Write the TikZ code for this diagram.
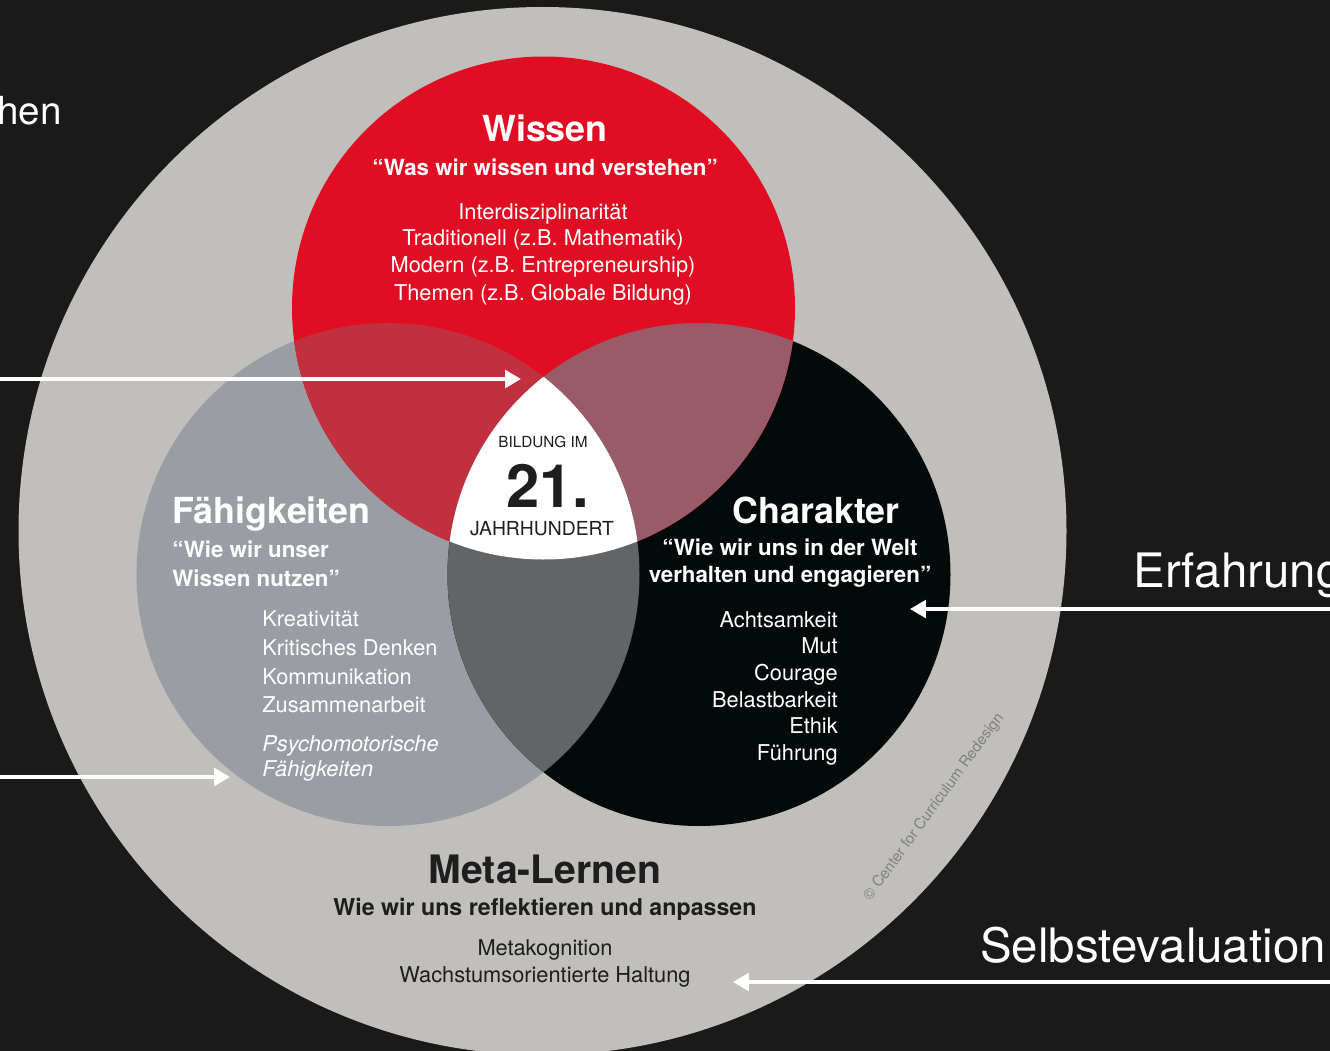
\documentclass[tikz,border=0pt]{standalone}
\usepackage{fontspec}
\setmainfont{TeX Gyre Heros}
\usepackage{tkz-euclide}
\usetikzlibrary{arrows.meta}

\definecolor{bgdark}{HTML}{1A1A1A}
\definecolor{ringgrey}{HTML}{C0BFBB}
\definecolor{wissenred}{HTML}{E10E23}
\definecolor{skillgrey}{HTML}{9A9EA4}
\definecolor{charblack}{HTML}{040909}
\definecolor{redgrey}{HTML}{C22F3F}
\definecolor{redblack}{HTML}{985B67}
\definecolor{greyblack}{HTML}{636466}
\definecolor{metatext}{HTML}{1E1E1E}
\definecolor{copygrey}{HTML}{808080}

\tikzset{
  every node/.style={inner sep=0pt},
  heading/.style={text=white,font=\bfseries\fontsize{20.4}{24}\selectfont},
  quote/.style={text=white,font=\bfseries\fontsize{12.7}{16}\selectfont},
  item/.style={text=white,font=\fontsize{12.4}{15}\selectfont},
  sidelabel/.style={text=white,font=\fontsize{27}{30}\selectfont},
  pointer/.style={white,line width=1.9pt,-{Triangle[length=9pt,width=10pt]}}
}

\begin{document}
\begin{tikzpicture}[x=0.02cm,y=-0.02cm]
    \useasboundingbox (0,0) rectangle (1330,1051);
    \fill[bgdark] (0,0) rectangle (1330,1051);
    \tkzDefPoint(542.5,531){O}
    \tkzDefPoint(543.5,308){W}
    \tkzDefPoint(388,574.5){F}
    \tkzDefPoint(699,574.5){C}
    % the rings
    \fill[ringgrey] (O) circle (524);
    \fill[skillgrey] (F) circle (251.5);
    \fill[charblack] (C) circle (251.5);
    \fill[wissenred] (W) circle (251.5);
    \begin{scope}
        \clip (W) circle (251.5);
        \fill[redgrey] (F) circle (251.5);
        \fill[redblack] (C) circle (251.5);
    \end{scope}
    \begin{scope}
        \clip (F) circle (251.5);
        \fill[greyblack] (C) circle (251.5);
        \clip (W) circle (251.5);
        \fill[white] (C) circle (251.5);
    \end{scope}
    % Wissen
    \node[heading,anchor=base] (wissen) at (545,142) {Wissen};
    \node[quote,anchor=base] (wq) at (545,175) {“Was wir wissen und verstehen”};
    \foreach \txt [count=\i] in {Interdisziplinarität,Traditionell (z.B. Mathematik),Modern (z.B. Entrepreneurship),Themen (z.B. Globale Bildung)}
        \node[item,anchor=base] (w\i) at (543,192+27*\i) {\txt};
    % Faehigkeiten
    \node[heading,anchor=base west] (faehig) at (172,523) {Fähigkeiten};
    \node[quote,anchor=base west] (fq1) at (172,557) {“Wie wir unser};
    \node[quote,anchor=base west] (fq2) at (172,586) {Wissen nutzen”};
    \foreach \txt [count=\i] in {Kreativität,Kritisches Denken,Kommunikation,Zusammenarbeit}
        \node[item,anchor=base west] (f\i) at (262,598+28.7*\i) {\txt};
    \node[item,anchor=base west,font=\itshape\fontsize{12.4}{15}\selectfont] (f5) at (262,751) {Psychomotorische};
    \node[item,anchor=base west,font=\itshape\fontsize{12.4}{15}\selectfont] (f6) at (262,776) {Fähigkeiten};
    % Charakter
    \node[heading,anchor=base] (charakter) at (816,523) {Charakter};
    \node[quote,anchor=base] (cq1) at (790,555) {“Wie wir uns in der Welt};
    \node[quote,anchor=base] (cq2) at (790,582) {verhalten und engagieren”};
    \foreach \txt [count=\i] in {Achtsamkeit,Mut,Courage,Belastbarkeit,Ethik,Führung}
        \node[item,anchor=base east] (c\i) at (838,600.6+26.6*\i) {\txt};
    % Meta-Lernen
    \node[heading,text=metatext,font=\bfseries\fontsize{22.3}{26}\selectfont,anchor=base] (meta) at (545,883) {Meta-Lernen};
    \node[quote,text=metatext,font=\bfseries\fontsize{13.2}{16}\selectfont,anchor=base] (mq) at (545,915) {Wie wir uns reflektieren und anpassen};
    \node[item,text=metatext,anchor=base] (m1) at (545,955) {Metakognition};
    \node[item,text=metatext,anchor=base] (m2) at (545,982) {Wachstumsorientierte Haltung};
    % centre
    \node[font=\fontsize{8.7}{10}\selectfont,text=metatext,anchor=base] (bildung) at (543,447) {BILDUNG IM};
    \node[font=\bfseries\fontsize{34}{36}\selectfont,text=metatext,anchor=base] (einundzw) at (548,507) {21.};
    \node[font=\fontsize{11}{13}\selectfont,text=metatext,anchor=base] (jahrh) at (542,535.5) {JAHRHUNDERT};
    \node[text=copygrey,font=\fontsize{8.6}{10}\selectfont,rotate=54] (copy) at (934,807) {© Center for Curriculum Redesign};
    % side labels
    \node[sidelabel,font=\fontsize{22}{26}\selectfont,anchor=base east] (hen) at (62,125) {hen};
    \node[sidelabel,anchor=base west] (erfahrung) at (1133,587) {Erfahrung};
    \node[sidelabel,anchor=base west] (selbst) at (980,962) {Selbstevaluation};
    % arrows
    \tkzDefPoint(0,379){A1}
    \tkzDefPoint(521,379){B1}
    \tkzDefPoint(0,777){A2}
    \tkzDefPoint(230,777){B2}
    \tkzDefPoint(1330,609){A3}
    \tkzDefPoint(910,609){B3}
    \tkzDefPoint(1330,982){A4}
    \tkzDefPoint(733,982){B4}
    \tkzDrawSegments[pointer](A1,B1 A2,B2 A3,B3 A4,B4)
\end{tikzpicture}
\end{document}
